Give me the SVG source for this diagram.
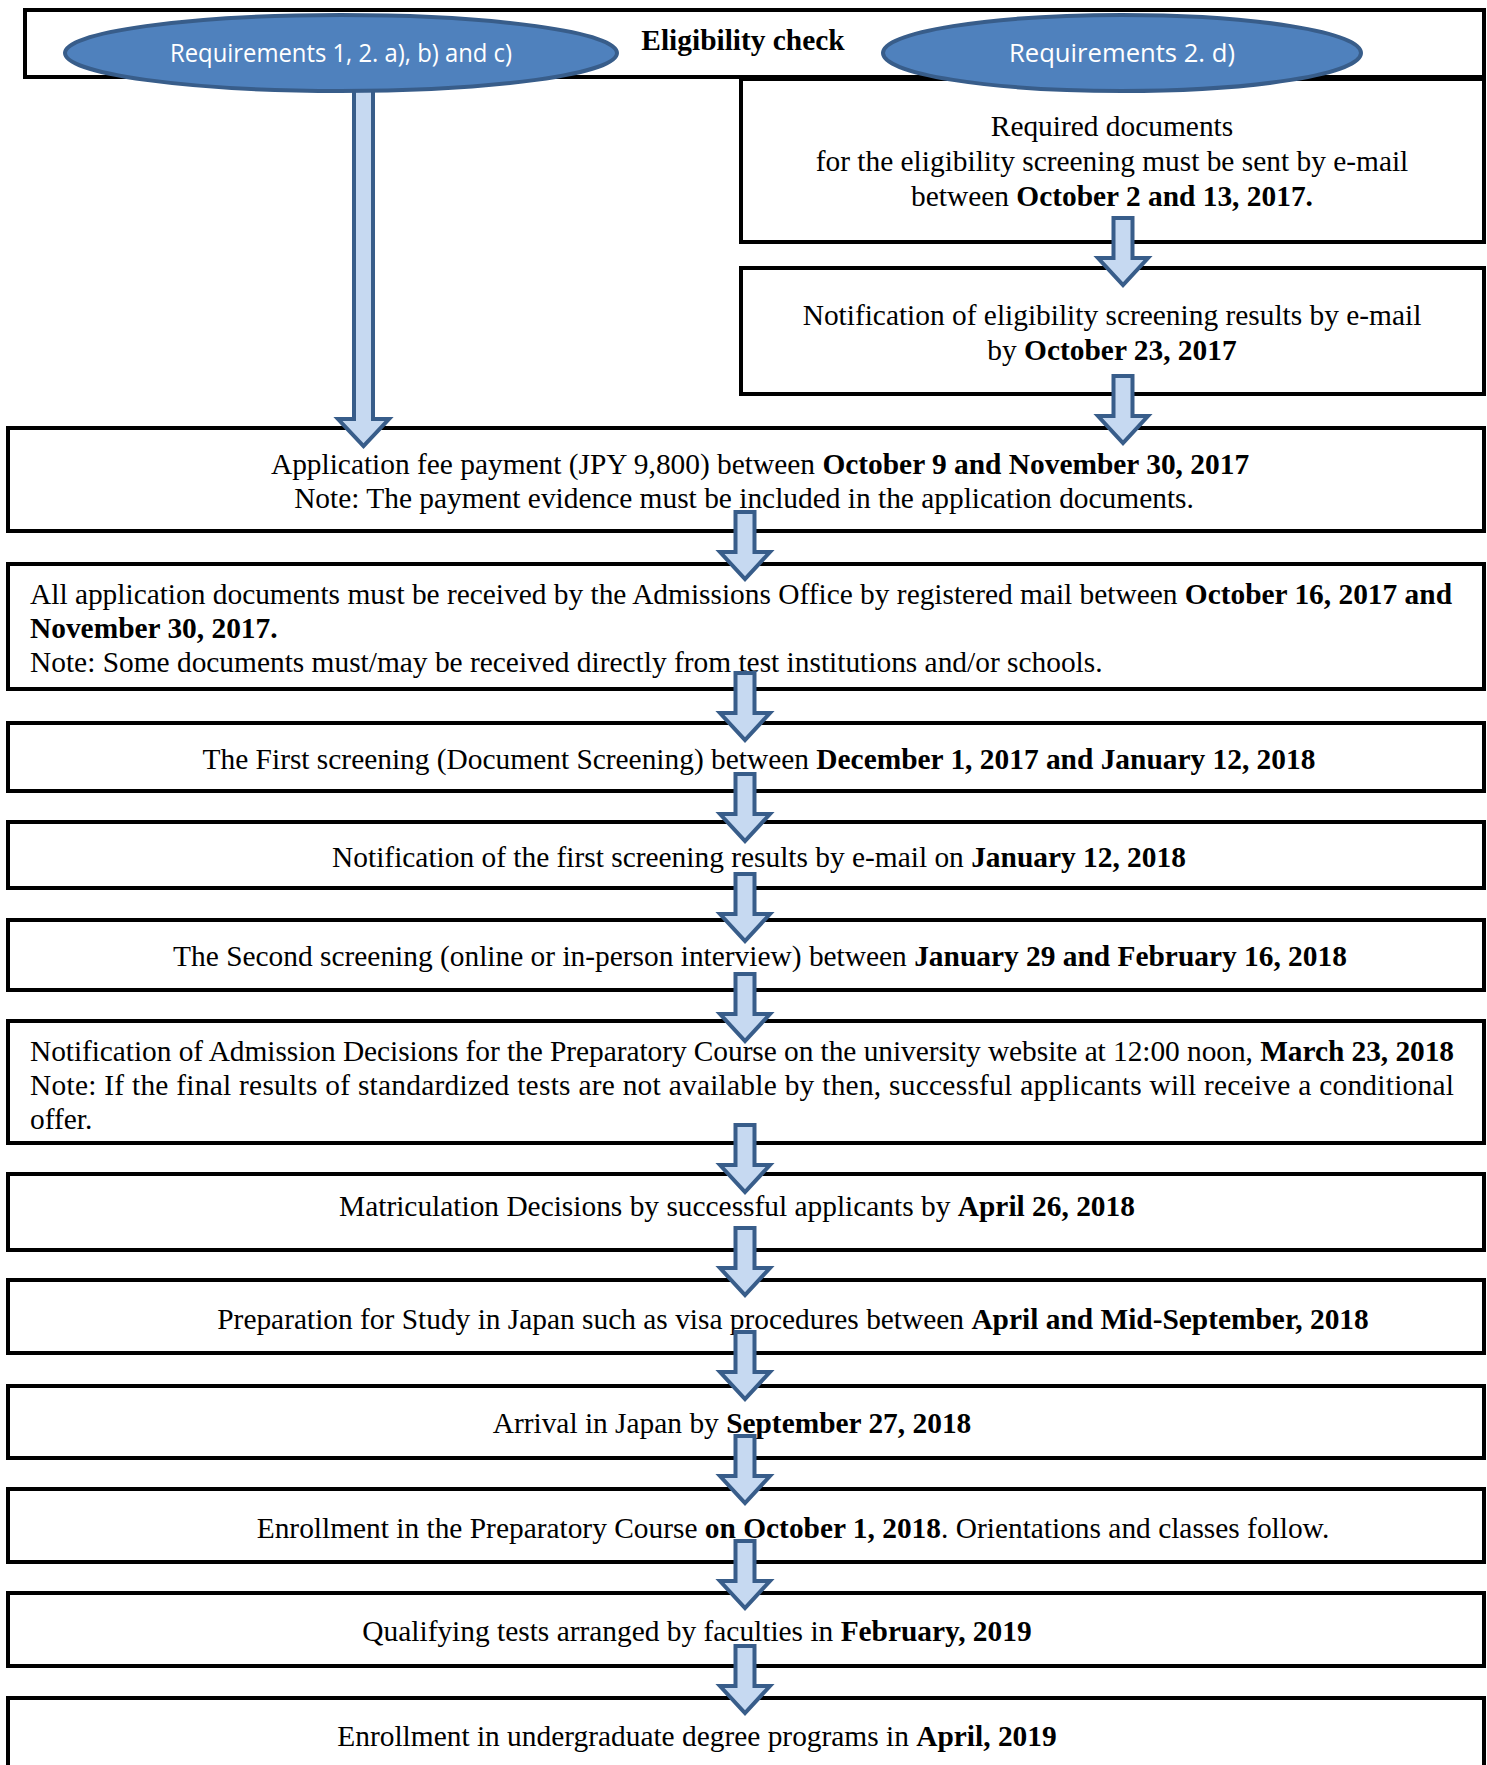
<svg xmlns="http://www.w3.org/2000/svg" width="1487" height="1765" viewBox="0 0 1487 1765">
<style>
.box{fill:#fff;stroke:#000;stroke-width:4}
.t{font-family:"Liberation Serif","Times New Roman",serif;font-size:29.4px;fill:#000}
.c{text-anchor:middle}
.b{font-weight:bold}
.ell{fill:#4F81BD;stroke:#385D8A;stroke-width:4}
.et{font-family:"Open Sans","Noto Sans",sans-serif;font-size:25px;fill:#fff;text-anchor:middle}
.arr{fill:#C6D9F1;stroke:#385D8A;stroke-width:4;stroke-linejoin:miter}
</style>
<defs>
<path id="sa" class="arr" d="M-9.5,0 H9.5 V40 H25 L0,67 L-25,40 H-9.5 Z"/>
</defs>
<rect width="1487" height="1765" fill="#fff"/>

<g id="eligibility-check">
<rect class="box" x="25" y="10" width="1459" height="67"/>
<text class="t c b" x="743" y="50">Eligibility check</text>
</g>

<g id="required-documents">
<rect class="box" x="741" y="79" width="743" height="163"/>
<text class="t c" x="1112" y="136">Required documents</text>
<text class="t c" x="1112" y="171">for the eligibility screening must be sent by e-mail</text>
<text class="t c" x="1112" y="206">between <tspan class="b">October 2 and 13, 2017.</tspan></text>
</g>

<g id="eligibility-results">
<rect class="box" x="741" y="268" width="743" height="126"/>
<text class="t c" x="1112" y="325">Notification of eligibility screening results by e-mail</text>
<text class="t c" x="1112" y="360">by <tspan class="b">October 23, 2017</tspan></text>
</g>

<g id="application-fee">
<rect class="box" x="8" y="428" width="1476" height="103"/>
<text class="t c" x="760" y="474">Application fee payment (JPY 9,800) between <tspan class="b">October 9 and November 30, 2017</tspan></text>
<text class="t c" x="744" y="508">Note: The payment evidence must be included in the application documents.</text>
</g>

<g id="application-documents">
<rect class="box" x="8" y="564" width="1476" height="125"/>
<text class="t" x="30" y="604" textLength="1422">All application documents must be received by the Admissions Office by registered mail between <tspan class="b">October 16, 2017 and</tspan></text>
<text class="t b" x="30" y="638">November 30, 2017.</text>
<text class="t" x="30" y="672">Note: Some documents must/may be received directly from test institutions and/or schools.</text>
</g>

<g id="first-screening">
<rect class="box" x="8" y="723" width="1476" height="68"/>
<text class="t c" x="759" y="769">The First screening (Document Screening) between <tspan class="b">December 1, 2017 and January 12, 2018</tspan></text>
</g>

<g id="first-results">
<rect class="box" x="8" y="822" width="1476" height="66"/>
<text class="t c" x="759" y="867">Notification of the first screening results by e-mail on <tspan class="b">January 12, 2018</tspan></text>
</g>

<g id="second-screening">
<rect class="box" x="8" y="920" width="1476" height="70"/>
<text class="t c" x="760" y="966">The Second screening (online or in-person interview) between <tspan class="b">January 29 and February 16, 2018</tspan></text>
</g>

<g id="admission-decisions">
<rect class="box" x="8" y="1021" width="1476" height="122"/>
<text class="t" x="30" y="1061" textLength="1424">Notification of Admission Decisions for the Preparatory Course on the university website at 12:00 noon, <tspan class="b">March 23, 2018</tspan></text>
<text class="t" x="30" y="1095" textLength="1424">Note: If the final results of standardized tests are not available by then, successful applicants will receive a conditional</text>
<text class="t" x="30" y="1129">offer.</text>
</g>

<g id="matriculation">
<rect class="box" x="8" y="1174" width="1476" height="76"/>
<text class="t c" x="737" y="1216">Matriculation Decisions by successful applicants by <tspan class="b">April 26, 2018</tspan></text>
</g>

<g id="preparation">
<rect class="box" x="8" y="1280" width="1476" height="73"/>
<text class="t c" x="793" y="1329">Preparation for Study in Japan such as visa procedures between <tspan class="b">April and Mid-September, 2018</tspan></text>
</g>

<g id="arrival">
<rect class="box" x="8" y="1386" width="1476" height="72"/>
<text class="t c" x="732" y="1433">Arrival in Japan by <tspan class="b">September 27, 2018</tspan></text>
</g>

<g id="preparatory-enrollment">
<rect class="box" x="8" y="1489" width="1476" height="73"/>
<text class="t c" x="793" y="1538">Enrollment in the Preparatory Course <tspan class="b">on October 1, 2018</tspan>. Orientations and classes follow.</text>
</g>

<g id="qualifying-tests">
<rect class="box" x="8" y="1593" width="1476" height="73"/>
<text class="t c" x="697" y="1641">Qualifying tests arranged by faculties in <tspan class="b">February, 2019</tspan></text>
</g>

<g id="undergraduate-enrollment">
<rect class="box" x="8" y="1698" width="1476" height="80"/>
<text class="t c" x="697" y="1746">Enrollment in undergraduate degree programs in <tspan class="b">April, 2019</tspan></text>
</g>

<g id="connectors">
<path class="arr" d="M354,80 H373 V419 H389 L363.5,446 L338,419 H354 Z"/>
<use href="#sa" x="1123" y="218"/>
<use href="#sa" x="1123" y="376"/>
<use href="#sa" x="745" y="512"/>
<use href="#sa" x="745" y="673"/>
<use href="#sa" x="745" y="774"/>
<use href="#sa" x="745" y="874"/>
<use href="#sa" x="745" y="974"/>
<use href="#sa" x="745" y="1125"/>
<use href="#sa" x="745" y="1228"/>
<use href="#sa" x="745" y="1332"/>
<use href="#sa" x="745" y="1436"/>
<use href="#sa" x="745" y="1541"/>
<use href="#sa" x="745" y="1646"/>
</g>

<g id="requirements-1-2abc">
<ellipse class="ell" cx="341" cy="53" rx="276" ry="38"/>
<text class="et" x="341" y="62" textLength="342" lengthAdjust="spacingAndGlyphs">Requirements 1, 2. a), b) and c)</text>
</g>

<g id="requirements-2d">
<ellipse class="ell" cx="1122" cy="53" rx="239" ry="38"/>
<text class="et" x="1122" y="62" textLength="226" lengthAdjust="spacingAndGlyphs">Requirements 2. d)</text>
</g>
</svg>
